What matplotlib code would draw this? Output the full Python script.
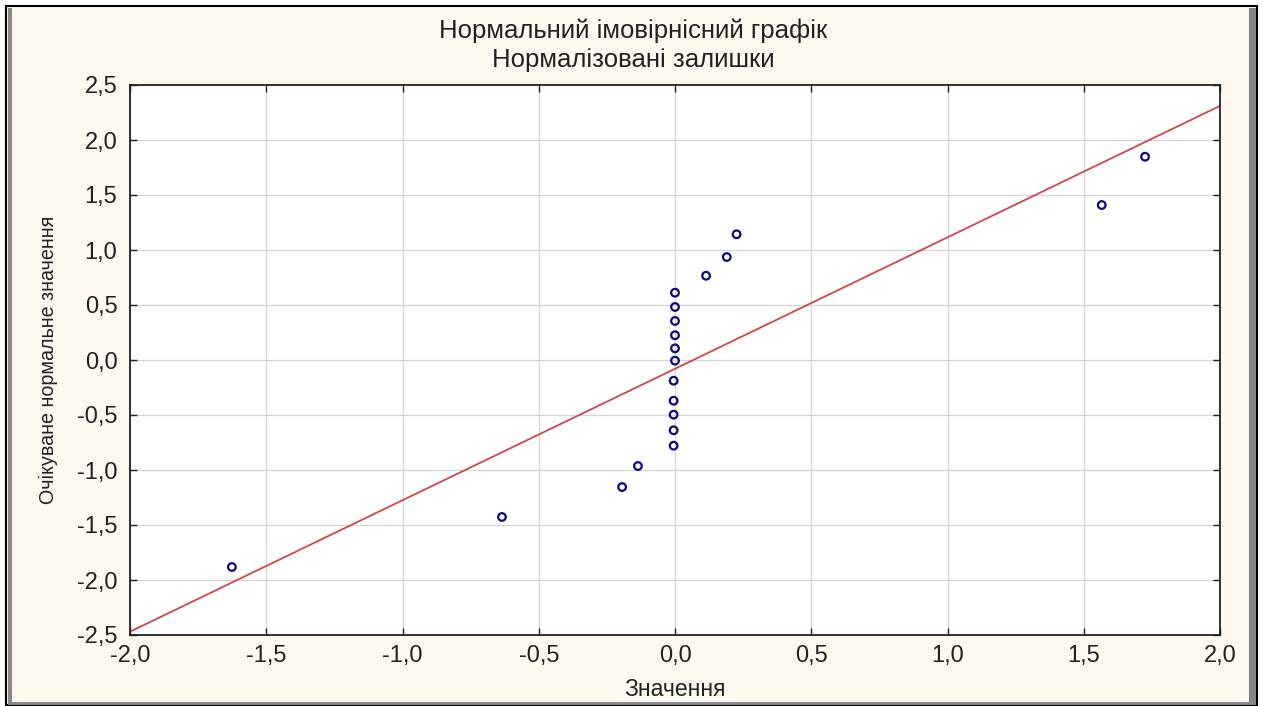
import numpy as np
import matplotlib.pyplot as plt
from matplotlib.patches import Rectangle
from matplotlib.ticker import FuncFormatter

plt.rcParams['font.family'] = ['Liberation Sans', 'DejaVu Sans']

# normal probability plot of normalised residuals
values = [-1.626, -0.635, -0.194, -0.136,
          -0.005, -0.005, -0.005, -0.005, -0.005, 0.0,
          0.0, 0.0, 0.0, 0.0, 0.0,
          0.114, 0.190, 0.226, 1.566, 1.725]
expected = [-1.882, -1.427, -1.155, -0.964,
            -0.779, -0.639, -0.497, -0.370, -0.188, -0.006,
            0.106, 0.225, 0.355, 0.482, 0.612,
            0.766, 0.936, 1.143, 1.409, 1.848]
line_x = [-2.0, 2.0]
line_y = [-2.47, 2.31]

W, H = 1263, 706
fig = plt.figure(figsize=(W / 100, H / 100), dpi=100)
fig.patch.set_facecolor('white')


def px_rect(x0, y0, x1, y1, **kw):
    # pixel box, y measured from the top
    r = Rectangle((x0 / W, 1 - y1 / H), (x1 - x0) / W, (y1 - y0) / H,
                  transform=fig.transFigure, zorder=-5, **kw)
    fig.patches.append(r)


px_rect(6, 6, 1257, 705, facecolor='#fdf9ee', edgecolor='black', lw=1.5)
px_rect(8, 8, 12, 704, facecolor='#8a8a8a', edgecolor='none')
px_rect(1249, 8, 1256, 704, facecolor='#858585', edgecolor='none')
px_rect(8, 702, 1256, 705, facecolor='#8a8a8a', edgecolor='none')

ax = fig.add_axes([130 / W, (H - 635) / H, 1090 / W, 550 / H])
ax.set_facecolor('white')

ax.plot(line_x, line_y, color='#d0474a', lw=1.3, zorder=2)
ax.scatter(values, expected, s=30, facecolors='none', edgecolors='#0a0a7a',
           linewidths=1.6, zorder=3)

ax.set_xlim(-2.0, 2.0)
ax.set_ylim(-2.5, 2.5)
ax.set_xticks(np.arange(-2.0, 2.01, 0.5))
ax.set_yticks(np.arange(-2.5, 2.51, 0.5))
fmt = FuncFormatter(lambda v, p: f'{v:.1f}'.replace('.', ','))
ax.xaxis.set_major_formatter(fmt)
ax.yaxis.set_major_formatter(fmt)
ax.tick_params(direction='in', length=5, width=1, top=True, right=True,
               labelsize=17, colors='#222222')
ax.tick_params(axis='y', pad=9)
ax.tick_params(axis='x', pad=7)
ax.grid(True, color='#d4d4d4', lw=0.9)
ax.set_axisbelow(True)
for s in ax.spines.values():
    s.set_color('#222222')
    s.set_linewidth(1.3)

ax.set_xlabel('Значення', fontsize=16.5, color='#222222', labelpad=8)
ax.set_ylabel('Очікуване нормальне значення', fontsize=14.2, color='#222222',
               labelpad=14)

fig.text(633 / W, 1 - 31 / H, 'Нормальний імовірнісний графік', ha='center',
         va='center', fontsize=18.5, color='#222222')
fig.text(633 / W, 1 - 60 / H, 'Нормалізовані залишки', ha='center',
         va='center', fontsize=18.5, color='#222222')

fig.savefig('out.png', dpi=100, facecolor=fig.get_facecolor())
